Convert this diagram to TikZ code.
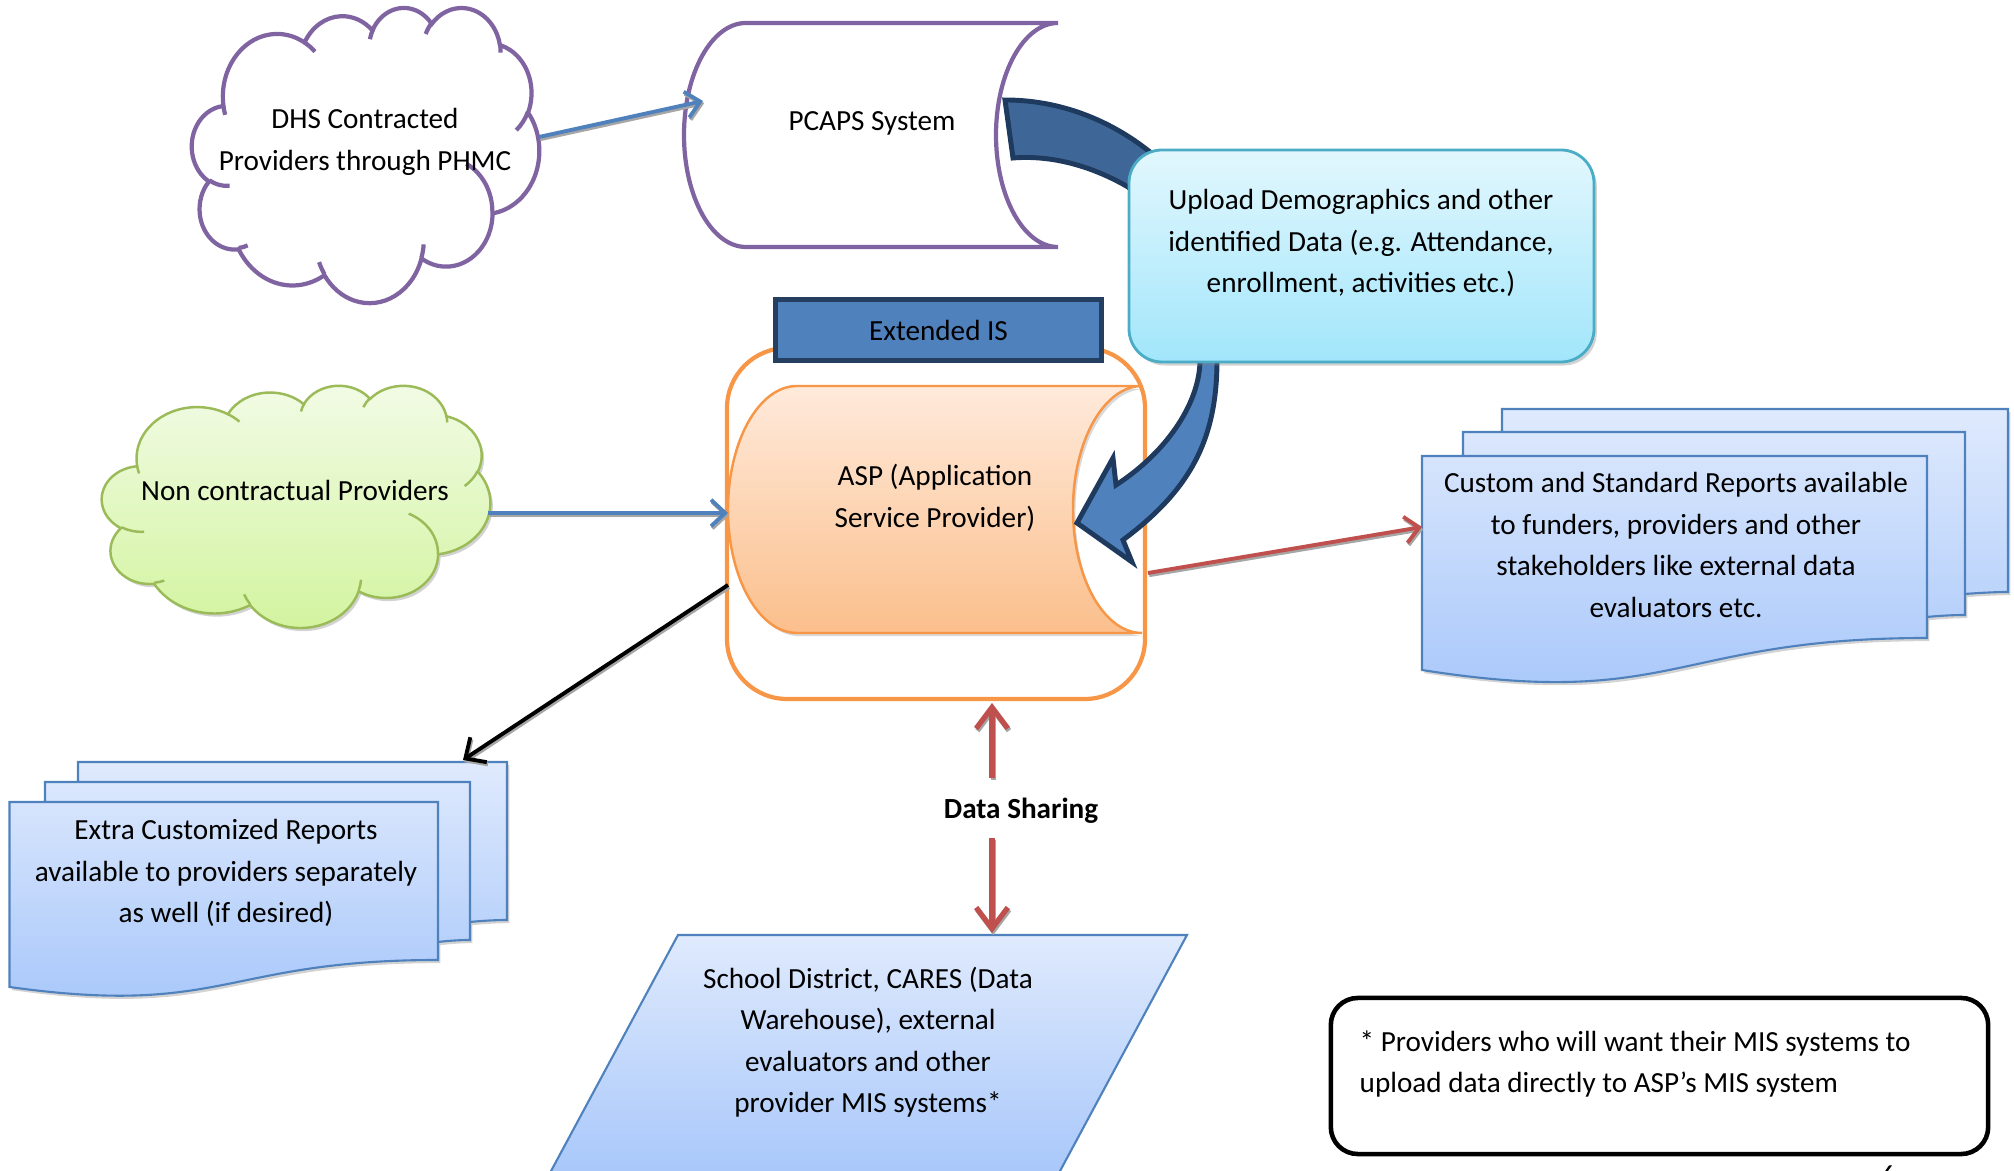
\documentclass[tikz,border=0pt]{standalone}
\usepackage{fontspec}
\setmainfont{Carlito}
\usetikzlibrary{arrows.meta,shadows}

\definecolor{arrblue}{HTML}{4F81BD}
\definecolor{navy}{HTML}{243F60}
\definecolor{bandtop}{HTML}{3E6797}
\definecolor{bandline}{HTML}{1F3A5F}
\definecolor{redline}{HTML}{C0504D}
\definecolor{orangeline}{HTML}{F79646}
\definecolor{purpleline}{HTML}{8064A2}
\definecolor{greenline}{HTML}{9BBB59}
\definecolor{tealline}{HTML}{4BACC6}
\definecolor{shgray}{HTML}{A6A6A6}
\definecolor{aspTop}{HTML}{FFEADB}
\definecolor{aspBot}{HTML}{FBBF8C}
\definecolor{upTop}{HTML}{E2F7FD}
\definecolor{upBot}{HTML}{A2E6FB}
\definecolor{docTop}{HTML}{DFEAFD}
\definecolor{docBot}{HTML}{A6C6FA}
\definecolor{grTop}{HTML}{F2FBE6}
\definecolor{grBot}{HTML}{D2F49E}

% one elliptical arc of the cloud outline: x radius, y radius, start angle, sweep
% (angles are measured along the ray, converted to the ellipse parameter)
\newcommand\cloudarc[4]{arc[start angle={atan2((#1)*sin(#3),(#2)*cos(#3))},
  delta angle={mod(atan2((#1)*sin((#3)+(#4)),(#2)*cos((#3)+(#4)))-atan2((#1)*sin(#3),(#2)*cos(#3))+720,360)},
  x radius={(#1)/432}, y radius={(#2)/432}]}

% cloud outline in a 100 x 100 box (y pointing down)
\newcommand\cloudoutline{(9.028,33.264)
  \cloudarc{6753}{9190}{-190.4875}{123.7805}
  \cloudarc{5333}{7267}{-144.1024}{89.9452}
  \cloudarc{4365}{5945}{-145.8079}{99.7230}
  \cloudarc{4857}{6595}{-130.9861}{117.2417}
  \cloudarc{5333}{7273}{-78.7089}{109.0269}
  \cloudarc{6775}{9220}{-46.2673}{130.2690}
  \cloudarc{5785}{7867}{0.6250}{114.0333}
  \cloudarc{6752}{9215}{22.4516}{115.1726}
  \cloudarc{7720}{10543}{66.2426}{75.7110}
  \cloudarc{4360}{5918}{-274.9421}{146.7356}
  \cloudarc{4345}{5945}{-246.8285}{152.5189} -- cycle}

% the small inner creases of the cloud
\newcommand\cloudinner{%
  (10.863,60.595) \cloudarc{4345}{5945}{86.7420}{26.4295}
  (16.037,80.785) \cloudarc{4360}{5918}{73.6105}{11.4475}
  (38.144,90.486) \cloudarc{6752}{9215}{137.6242}{14.0811}
  (66.729,80.442) \cloudarc{6752}{9215}{6.4533}{15.9984}
  (79.002,53.134) \cloudarc{5785}{7867}{-70.2924}{70.9174}
  (96.755,35.542) \cloudarc{5333}{7273}{30.3180}{27.7515}
  (88.713,12.560) \cloudarc{4857}{6595}{-13.7443}{14.8661}
  (67.310,9.148) \cloudarc{4857}{6595}{-149.1815}{18.1978}
  (51.252,10.926) \cloudarc{4365}{5945}{-163.4943}{17.6960}
  (32.407,12.019) \cloudarc{6753}{9190}{-66.7070}{12.3194}
  (9.553,36.549) \cloudarc{6753}{9190}{157.6544}{11.8582}}

% straight connector with a soft grey shadow underneath
\newcommand\shconn[3]{%
  \draw[#1, draw=shgray, transform canvas={shift={(1.2,2.2)}}] (#2) -- (#3);
  \draw[#1] (#2) -- (#3);}

\begin{document}
\begin{tikzpicture}[x=0.01cm, y=-0.01cm,
  txt/.style={font=\fontsize{8.3}{11.8}\selectfont, align=center, inner sep=0pt},
  blueconn/.style={draw=arrblue, line width=1.1pt, -{Straight Barb[length=4pt,width=7.5pt]}},
  blackconn/.style={draw=black, line width=1.1pt, -{Straight Barb[length=4.5pt,width=8.5pt]}},
  redconn/.style={draw=redline, line width=1.1pt, -{Straight Barb[length=4pt,width=7.5pt]}},
  shareconn/.style={draw=redline, line width=1.5pt, -{Straight Barb[length=6pt,width=9pt]}},
  docshape/.style={draw=arrblue, line width=0.6pt, top color=docTop, bottom color=docBot,
    drop shadow={shadow xshift=0.7pt, shadow yshift=-0.9pt, opacity=0.35}},
  band/.style={line width=1.4pt, draw=bandline, line join=miter},
]
\useasboundingbox (0,0) rectangle (2014,1171);

% ---------------- clouds ----------------
\begin{scope}[shift={(192,7)}, x=0.0347cm, y=-0.0295cm]
  \draw[purpleline, line width=1.2pt, fill=white] \cloudoutline;
  \draw[purpleline, line width=1.2pt] \cloudinner;
\end{scope}
\node[txt] (dhs) at (365,142) {DHS Contracted\\Providers through PHMC};

\begin{scope}[shift={(102,385)}, x=0.0388cm, y=-0.0242cm]
  \draw[greenline, line width=0.7pt, top color=grTop, bottom color=grBot,
    drop shadow={shadow xshift=0.7pt, shadow yshift=-0.9pt, opacity=0.35}] \cloudoutline;
  \draw[greenline, line width=0.7pt] \cloudinner;
\end{scope}
\node[txt] (nonc) at (295,490) {Non contractual Providers};

% ---------------- PCAPS stored-data shape ----------------
\draw[purpleline, line width=1.2pt, fill=white]
  (746,23) -- (1058,23) .. controls (1023.8,23) and (996,73.1) .. (996,135)
  .. controls (996,196.9) and (1023.8,247) .. (1058,247) -- (746,247)
  .. controls (711.8,247) and (684,196.9) .. (684,135)
  .. controls (684,73.1) and (711.8,23) .. (746,23) -- cycle;
\node[txt] (pcaps) at (872,123) {PCAPS System};

% ---------------- Extended IS container ----------------
\draw[orangeline, line width=1.2pt, rounded corners=0.6cm] (727,348) rectangle (1145,699);
\node[draw=navy, fill=arrblue, line width=1.4pt, minimum width=3.26cm, minimum height=0.61cm,
  inner sep=0pt, font=\fontsize{8.3}{11.8}\selectfont,
  drop shadow={shadow xshift=0.5pt, shadow yshift=-0.6pt, opacity=0.3}] (ext) at (938.5,330) {Extended IS};

% ASP stored-data shape
\draw[orangeline, line width=0.7pt, top color=aspTop, bottom color=aspBot,
  drop shadow={shadow xshift=0.7pt, shadow yshift=-0.9pt, opacity=0.3}]
  (797,386) -- (1142,386) .. controls (1103.9,386) and (1073,441.3) .. (1073,509.5)
  .. controls (1073,577.7) and (1103.9,633) .. (1142,633) -- (797,633)
  .. controls (758.9,633) and (728,577.7) .. (728,509.5)
  .. controls (728,441.3) and (758.9,386) .. (797,386) -- cycle;
\node[txt] (asp) at (935,498) {ASP (Application\\Service Provider)};

% ---------------- curved upload arrow ----------------
\draw[band, fill=bandtop]
  (1005,100) .. controls (1060,100) and (1110,120) .. (1150,152)
  -- (1185,178) -- (1160,215) -- (1135,193) -- (1128,187)
  .. controls (1090,165) and (1050,155) .. (1013,158) -- cycle;
\draw[band, fill=arrblue]
  (1218,330) -- (1217,360) .. controls (1217,440) and (1190,490) .. (1123,540)
  -- (1132,562) -- (1077,523) -- (1113,458) -- (1116,485)
  .. controls (1170,450) and (1200,400) .. (1200,360) -- (1200,330) -- cycle;

% upload box
\draw[tealline, line width=0.8pt, rounded corners=0.33cm, top color=upTop, bottom color=upBot,
  drop shadow={shadow xshift=0.8pt, shadow yshift=-1pt, opacity=0.35}]
  (1129,150) rectangle (1594,362);
\node[txt] (upload) at (1361,243) {Upload Demographics and other\\identified Data (e.g. Attendance,\\enrollment, activities etc.)};

% ---------------- report stacks ----------------
\draw[docshape]
  (1502,432) -- (1502,409) -- (2008,409) -- (2008,592) .. controls (1990,592) and (1965,594) .. (1965,594) -- (1965,432) -- cycle
  (1463,456) -- (1463,432) -- (1965,432) -- (1965,615) .. controls (1946,615) and (1927,617) .. (1927,617) -- (1927,456) -- cycle
  (1422,456) -- (1927,456) -- (1927,638) .. controls (1674,638) and (1674,710) .. (1422,670) -- cycle;
\node[txt] (stdrep) at (1676,545) {Custom and Standard Reports available\\to funders, providers and other\\stakeholders like external data\\evaluators etc.};

\draw[docshape]
  (78,782) -- (78,762) -- (507,762) -- (507,920) .. controls (489,920) and (470,922) .. (470,922) -- (470,782) -- cycle
  (45,802) -- (45,782) -- (470,782) -- (470,940) .. controls (454,940) and (438,942) .. (438,942) -- (438,802) -- cycle
  (9.5,802) -- (438,802) -- (438,960) .. controls (224,960) and (224,1017) .. (9.5,987) -- cycle;
\node[txt] (extrarep) at (226,873) {Extra Customized Reports\\available to providers separately\\as well (if desired)};

% ---------------- data sharing partners ----------------
\path[top color=docTop, bottom color=docBot] (543.5,1185) -- (678,935) -- (1187,935) -- (1052.5,1185) -- cycle;
\draw[arrblue, line width=0.6pt] (543.5,1185) -- (678,935) -- (1187,935) -- (1052.5,1185);
\node[txt] (school) at (868,1042) {School District, CARES (Data\\Warehouse), external\\evaluators and other\\provider MIS systems*};

\node[txt, font=\fontsize{8.3}{11.8}\selectfont\bfseries] (share) at (1021,811) {Data Sharing};

% footnote box
\node[draw, line width=1.3pt, rounded corners=0.27cm, minimum width=6.57cm, minimum height=1.56cm,
  inner sep=0pt] (note) at (1659.5,1076) {};
\node[txt, align=left, anchor=west] (notetext) at (1359,1064)
  {* Providers who will want their MIS systems to\\upload data directly to ASP’s MIS system};

\node[txt, anchor=base] (pagenum) at (1888,1186) {6};

% ---------------- connectors ----------------
\coordinate (dhs-out) at (539,137);
\coordinate (pcaps-in) at (703,101);
\coordinate (nonc-out) at (488,513);
\coordinate (asp-in) at (728,513);
\coordinate (asp-left) at (728,585);
\coordinate (extrarep-in) at (463,760);
\coordinate (asp-right) at (1148,573);
\coordinate (stdrep-in) at (1422,527);
\coordinate (share-up) at (992,778);
\coordinate (ext-bottom) at (992,703);
\coordinate (share-down) at (992,838);
\coordinate (school-top) at (992,933);

\shconn{blueconn}{dhs-out}{pcaps-in}
\shconn{blueconn}{nonc-out}{asp-in}
\shconn{blackconn}{asp-left}{extrarep-in}
\shconn{redconn}{asp-right}{stdrep-in}
\shconn{shareconn}{share-up}{ext-bottom}
\shconn{shareconn}{share-down}{school-top}
\end{tikzpicture}
\end{document}
